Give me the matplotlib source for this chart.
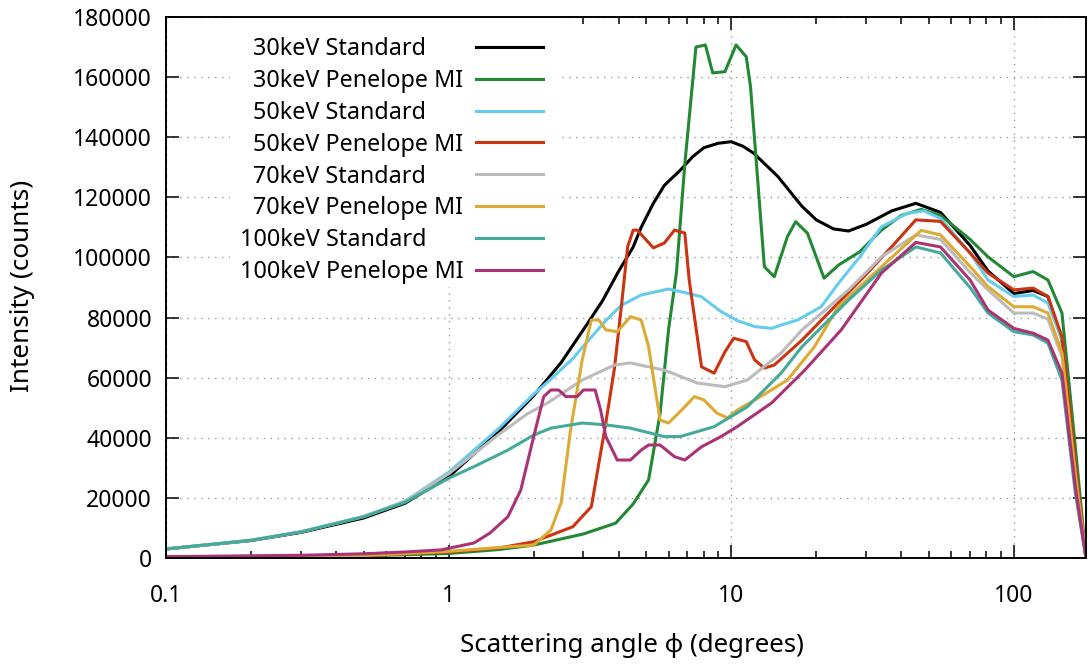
import numpy as np
import matplotlib
matplotlib.use("Agg")
import matplotlib.pyplot as plt
from matplotlib.patches import Rectangle
from matplotlib.ticker import FixedLocator, FixedFormatter, LogLocator, NullFormatter

plt.rcParams["font.family"] = ["Noto Sans", "DejaVu Sans"]
plt.rcParams["font.size"] = 16.5

# ---- data (angle in degrees, intensity in counts) ----
ang_30s = [0.1, 0.2, 0.3, 0.5, 0.7, 1.0, 1.5, 2.0, 2.5, 3.0, 3.5, 4.0, 4.5, 4.8, 5.3, 5.8, 6.6,
           7.3, 8.0, 9.0, 10, 11, 12, 14.6, 17.8, 20, 23, 26, 30, 37, 45, 55, 70, 81, 100, 117,
           132, 148, 160, 170, 180]
int_30s = [3000, 5800, 8500, 13300, 18200, 27000, 42000, 54000, 65000, 76000, 85500, 95500,
           103500, 110000, 118000, 124000, 129000, 133500, 136500, 138000, 138500, 137000,
           134700, 127000, 117000, 112500, 109500, 108800, 111000, 115500, 118000, 115000,
           104000, 95500, 88000, 89000, 87000, 72500, 37000, 17000, 0]

ang_30p = [0.1, 0.3, 0.5, 1.0, 1.5, 2.0, 3.0, 3.9, 4.5, 5.1, 5.6, 6.0, 6.4, 6.85, 7.5, 8.1, 8.6,
           9.5, 10.4, 11.3, 11.7, 13.1, 14.2, 15.8, 16.9, 18.6, 21.3, 24, 28.5, 34, 40, 47, 55,
           70, 81, 100, 117, 132, 148, 165, 180]
int_30p = [200, 400, 700, 1500, 2800, 4300, 8000, 11600, 18000, 26000, 48000, 76000, 95000,
           131000, 170000, 170700, 161400, 161800, 170700, 166800, 156800, 96900, 93600, 106900,
           111900, 108100, 93100, 97500, 101900, 109100, 114000, 116000, 114000, 106000, 100200,
           93600, 95300, 92500, 81500, 37000, 0]

ang_50s = [0.1, 0.2, 0.3, 0.5, 0.7, 1.0, 1.5, 2.0, 2.3, 2.76, 3.0, 3.6, 4.07, 4.8, 6.0, 7.0, 7.85,
           9.2, 10.5, 12.1, 13.9, 15, 17.2, 20.8, 24, 28.5, 34, 42, 48, 55, 70, 81, 100, 117, 132,
           148, 165, 180]
int_50s = [3000, 5900, 8700, 13800, 18900, 28500, 43000, 54500, 59500, 66500, 70500, 79000,
           84000, 87500, 89500, 88100, 86900, 82000, 79000, 77000, 76400, 77500, 79200, 83600,
           91500, 100200, 110200, 114700, 115500, 113000, 101500, 92500, 87000, 87500, 84800,
           72500, 29300, 0]

ang_50p = [0.1, 0.3, 0.5, 1.0, 1.5, 2.0, 2.75, 3.2, 3.6, 3.86, 4.1, 4.3, 4.5, 4.65, 5.3, 5.8, 6.3,
           6.85, 7.1, 7.85, 8.7, 9.5, 10.2, 11.3, 12.1, 13.1, 14.2, 17.8, 22.6, 29.5, 37, 45, 55,
           70, 81, 100, 117, 132, 148, 165, 180]
int_50p = [300, 500, 800, 2000, 3300, 5400, 10400, 17100, 45000, 63000, 85000, 103600, 109100,
           109100, 103200, 104800, 109100, 108100, 92500, 63600, 61500, 68600, 73100, 72000,
           65900, 63200, 64200, 72500, 82500, 93600, 103600, 112500, 112000, 101500, 94800,
           89200, 89800, 87000, 73600, 31600, 0]

ang_70s = [0.1, 0.2, 0.3, 0.5, 0.7, 1.0, 1.5, 1.9, 2.24, 2.97, 3.86, 4.4, 5.8, 7.6, 9.5, 11.4,
           15, 17.8, 26, 34, 45, 55, 70, 81, 100, 117, 132, 148, 165, 180]
int_70s = [3000, 5900, 8700, 13800, 18800, 28000, 41000, 48000, 51600, 59200, 64200, 64900,
           62500, 58200, 57000, 59200, 68200, 75900, 89200, 100200, 107500, 106000, 95000,
           89200, 81500, 81500, 79500, 67000, 26000, 0]

ang_70p = [0.1, 0.3, 0.5, 1.0, 1.5, 2.0, 2.3, 2.5, 2.7, 2.97, 3.2, 3.4, 3.6, 3.95, 4.4, 4.8, 5.1,
           5.6, 6.0, 6.85, 7.4, 8.0, 8.9, 9.7, 10.5, 12.7, 15.8, 19.7, 23.9, 34, 47, 55, 70, 81,
           100, 117, 132, 148, 165, 180]
int_70p = [300, 500, 800, 2200, 3500, 4300, 9300, 18300, 42600, 66000, 79200, 79200, 75900,
           75300, 80300, 79200, 70300, 45900, 44900, 50300, 53700, 52600, 48200, 46600, 49200,
           53700, 59200, 70300, 83600, 96900, 109000, 107500, 97000, 90300, 83600, 83600, 81500,
           68200, 28300, 0]

ang_100s = [0.1, 0.2, 0.3, 0.5, 0.7, 1.0, 1.23, 1.62, 2.0, 2.3, 2.97, 3.6, 4.4, 5.8, 6.6, 8.7,
            11.4, 15, 17.8, 26, 34, 45, 55, 70, 81, 100, 117, 132, 148, 165, 180]
int_100s = [3000, 5900, 8700, 13700, 18500, 26500, 30400, 35900, 40900, 43200, 44900, 44300,
            43200, 40400, 40400, 43700, 50300, 61500, 70300, 85800, 95800, 103500, 101500,
            90000, 81500, 75300, 74200, 71500, 59200, 21600, 0]

ang_100p = [0.1, 0.3, 0.5, 0.7, 0.94, 1.23, 1.4, 1.62, 1.8, 2.0, 2.17, 2.3, 2.45, 2.6, 2.85, 3.0,
            3.3, 3.45, 3.6, 3.95, 4.4, 4.8, 5.1, 5.6, 6.3, 6.85, 7.85, 9.2, 10.5, 13.9, 18.2,
            24.5, 34, 45, 55, 70, 81, 100, 117, 132, 148, 165, 180]
int_100p = [450, 900, 1400, 2000, 2700, 5000, 8300, 13700, 22600, 40400, 53700, 55900, 55900,
            53700, 53700, 55900, 55900, 49200, 40400, 32600, 32600, 35900, 37600, 37600, 33700,
            32600, 37000, 40400, 43700, 51600, 62500, 75900, 94800, 105000, 103500, 92500,
            82500, 76400, 74800, 72500, 61500, 23700, 0]

labels = ["30keV Standard", "30keV Penelope MI", "50keV Standard", "50keV Penelope MI",
          "70keV Standard", "70keV Penelope MI", "100keV Standard", "100keV Penelope MI"]
angles = [ang_30s, ang_30p, ang_50s, ang_50p, ang_70s, ang_70p, ang_100s, ang_100p]
intensities = [int_30s, int_30p, int_50s, int_50p, int_70s, int_70p, int_100s, int_100p]
colors = ["#000000", "#228833", "#66ccee", "#cc3311", "#bbbbbb", "#ddaa33", "#44aa99", "#aa3377"]

# ---- figure ----
W, H = 1088, 664
fig = plt.figure(figsize=(W / 100, H / 100), dpi=100)
L, R, T, B = 166, 1086, 17, 558
ax = fig.add_axes([L / W, (H - B) / H, (R - L) / W, (B - T) / H])

for x, y, c in zip(angles, intensities, colors):
    ax.plot(x, y, color=c, lw=2.2, solid_joinstyle="round", zorder=2)

ax.set_xscale("log")
ax.set_xlim(0.1, 180)
ax.set_ylim(0, 180000)
ax.xaxis.set_major_locator(FixedLocator([0.1, 1, 10, 100]))
ax.xaxis.set_major_formatter(FixedFormatter(["0.1", "1", "10", "100"]))
ax.xaxis.set_minor_locator(LogLocator(base=10, subs=np.arange(2, 10)))
ax.xaxis.set_minor_formatter(NullFormatter())
ax.set_yticks(np.arange(0, 180001, 20000))
ax.set_yticklabels([str(v) for v in range(0, 180001, 20000)])

ax.tick_params(which="both", direction="in", top=True, right=True, width=1.1)
ax.tick_params(which="major", length=9.5)
ax.tick_params(which="minor", length=5)
ax.tick_params(axis="x", which="major", pad=19)
ax.tick_params(axis="y", which="major", pad=10)
for s in ax.spines.values():
    s.set_linewidth(1.4)

ax.set_axisbelow(True)
ax.grid(True, which="major", color="#999999", lw=1.0, linestyle=(0, (1, 4)))

ax.set_xlabel("Scattering angle ϕ (degrees)", fontsize=18.6)
ax.xaxis.label.set_va("center")
ax.xaxis.set_label_coords(0.506, -0.161)
ax.set_ylabel("Intensity (counts)", fontsize=18.8)
ax.yaxis.label.set_va("center")
ax.yaxis.set_label_coords(-0.1565, 0.503)

# gnuplot-style key: opaque area hiding the grid, text then line sample
ax.add_patch(Rectangle(((230 - L) / (R - L), (B - 287) / (B - T)), (557 - 230) / (R - L),
                       (287 - T) / (B - T), transform=ax.transAxes, facecolor="white",
                       edgecolor="none", zorder=1))
row_px = [46.7 + 31.9 * i for i in range(8)]
text_left_px = [252.7] * 6 + [240.0] * 2
for lab, c, ypx, tx in zip(labels, colors, row_px, text_left_px):
    fy = (B - ypx) / (B - T)
    ax.plot([(476 - L) / (R - L), (543 - L) / (R - L)], [fy, fy], transform=ax.transAxes,
            color=c, lw=2.2, clip_on=False, zorder=3)
    ax.text((tx - L) / (R - L), fy - 8.3 / (B - T), lab, transform=ax.transAxes,
            ha="left", va="baseline", fontsize=16.8, zorder=3)

fig.savefig("out.png", dpi=100)
